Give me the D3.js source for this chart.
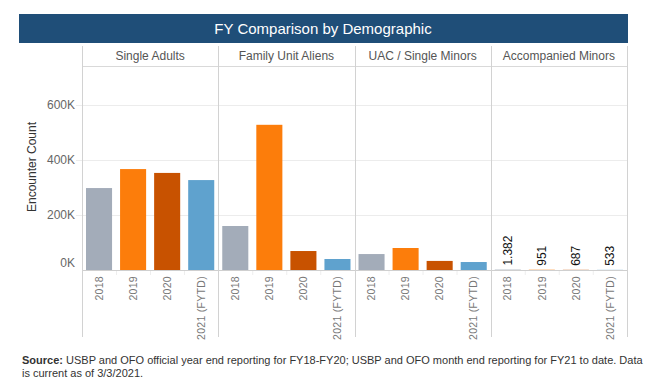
<!DOCTYPE html>
<html>
<head>
<meta charset="utf-8">
<script src="https://cdn.jsdelivr.net/npm/d3@7"></script>
<style>
  body { margin: 0; background: #fff; }
  svg { font-family: "Liberation Sans", Arial, sans-serif; display: block; }
</style>
</head>
<body>
<div id="chart"></div>
<script>
// facets & years
var categories = ["Single Adults", "Family Unit Aliens", "UAC / Single Minors", "Accompanied Minors"];
var years = ["2018", "2019", "2020", "2021 (FYTD)"];

// encounter counts per facet, in year order
var singleAdults = [298000, 367000, 353000, 327000];
var familyUnits = [160000, 528000, 69000, 40000];
var uacMinors = [58000, 80000, 33000, 29000];
var accompaniedMinors = [1382, 951, 687, 533];

var yTicks = [0, 200000, 400000, 600000];
var yearColors = ["#a3acb9", "#fc7d0b", "#c85200", "#5fa2ce"];

var seriesByCat = [singleAdults, familyUnits, uacMinors, accompaniedMinors];

var width = 650, height = 386;
var plotL = 82, plotR = 627; // facet area
var baseY = 270; // zero line
var headTop = 46, headBot = 66, sepBottom = 337;

var svg = d3.select("#chart").append("svg")
  .attr("width", width)
  .attr("height", height);

// title bar
svg.append("rect")
  .attr("x", 19).attr("y", 14)
  .attr("width", 609).attr("height", 29)
  .attr("fill", "#1f4e78");
svg.append("text")
  .attr("x", 323).attr("y", 29)
  .attr("dy", "0.35em")
  .attr("text-anchor", "middle")
  .attr("fill", "#fff")
  .style("font-size", "15px")
  .text("FY Comparison by Demographic");

var x = d3.scaleBand().domain(categories).range([plotL, plotR]);
var xi = d3.scaleBand().domain(years).range([0, x.bandwidth()])
  .paddingInner(0.235).paddingOuter(0.1175);
var y = d3.scaleLinear().domain([0, 600000]).range([baseY, 105]);

// gridlines
svg.selectAll(".grid").data(yTicks.slice(1)).enter().append("line")
  .attr("x1", 76).attr("x2", plotR)
  .attr("y1", function (d) { return y(d) + 0.5; })
  .attr("y2", function (d) { return y(d) + 0.5; })
  .attr("stroke", "#ececec").attr("stroke-width", 1);

// y tick labels (0K sits a little above the baseline, like the original)
svg.selectAll(".ytick").data(yTicks).enter().append("text")
  .attr("x", 75)
  .attr("y", function (d) { return d === 0 ? y(d) - 7 : y(d); })
  .attr("dy", "0.35em")
  .attr("text-anchor", "end")
  .attr("fill", "#666")
  .style("font-size", "12px")
  .text(function (d) { return (d / 1000) + "K"; });

// y axis title
svg.append("text")
  .attr("transform", "translate(32,167) rotate(-90)")
  .attr("dy", "0.35em")
  .attr("text-anchor", "middle")
  .attr("fill", "#333")
  .style("font-size", "12px")
  .text("Encounter Count");

// header bottom line
svg.append("line")
  .attr("x1", plotL).attr("x2", plotR)
  .attr("y1", headBot + 0.5).attr("y2", headBot + 0.5)
  .attr("stroke", "#d9d9d9");

var dotFmt = d3.formatLocale({ decimal: ",", thousands: ".", grouping: [3], currency: ["", ""] }).format(",");

var facet = svg.selectAll(".facet").data(categories).enter().append("g")
  .attr("transform", function (d) { return "translate(" + x(d) + ",0)"; });

// header labels
facet.append("text")
  .attr("x", x.bandwidth() / 2)
  .attr("y", 56)
  .attr("dy", "0.35em")
  .attr("text-anchor", "middle")
  .attr("fill", "#555")
  .style("font-size", "12px")
  .text(function (d) { return d; });

// bars
facet.selectAll("rect").data(function (d, i) {
    return seriesByCat[i].map(function (v, j) { return { year: years[j], value: v, cat: i }; });
  }).enter().append("rect")
  .attr("x", function (d) { return xi(d.year); })
  .attr("width", xi.bandwidth())
  .attr("y", function (d) { return y(d.value); })
  .attr("height", function (d) { return baseY - y(d.value); })
  .attr("fill", function (d, j) { return yearColors[j]; });

// value labels only on the tiny accompanied minors bars
facet.filter(function (d, i) { return i === 3; })
  .selectAll(".val").data(function () {
    return accompaniedMinors.map(function (v, j) { return { year: years[j], value: v }; });
  }).enter().append("text")
  .attr("transform", function (d) {
    return "translate(" + (xi(d.year) + xi.bandwidth() / 2) + "," + (y(d.value) - 4) + ") rotate(-90)";
  })
  .attr("dy", "0.35em")
  .attr("fill", "#111")
  .style("font-size", "12px")
  .text(function (d) { return dotFmt(d.value); });

// x labels (rotated years)
facet.selectAll(".xl").data(years).enter().append("text")
  .attr("transform", function (d) {
    return "translate(" + (xi(d) + xi.bandwidth() / 2) + "," + (baseY + 6) + ") rotate(-90)";
  })
  .attr("dy", "0.35em")
  .attr("text-anchor", "end")
  .attr("fill", "#777")
  .style("font-size", "10.5px")
  .style("letter-spacing", "0.3px")
  .text(function (d) { return d; });

// small band dividers under the axis
facet.selectAll(".bt").data(years.slice(1)).enter().append("line")
  .attr("x1", function (d) { return Math.round(xi(d) - xi.step() * 0.1175) + 0.5; })
  .attr("x2", function (d) { return Math.round(xi(d) - xi.step() * 0.1175) + 0.5; })
  .attr("y1", baseY + 1).attr("y2", baseY + 5)
  .attr("stroke", "#eee");

// zero baseline
svg.append("line")
  .attr("x1", plotL).attr("x2", plotR)
  .attr("y1", baseY + 0.5).attr("y2", baseY + 0.5)
  .attr("stroke", "#cfcfcf");

// facet separators
var seps = categories.map(function (c) { return x(c); }).concat([plotR]);
svg.selectAll(".sep").data(seps).enter().append("line")
  .attr("x1", function (d) { return Math.round(d) + 0.5; })
  .attr("x2", function (d) { return Math.round(d) + 0.5; })
  .attr("y1", headTop).attr("y2", sepBottom)
  .attr("stroke", "#d2d2d2");

// footer
var foot = svg.append("text")
  .attr("x", 22).attr("y", 360)
  .attr("dy", "0.35em")
  .attr("fill", "#333")
  .style("font-size", "11px");
foot.append("tspan").style("font-weight", "bold").text("Source:");
foot.append("tspan").text(" USBP and OFO official year end reporting for FY18-FY20; USBP and OFO month end reporting for FY21 to date. Data");
svg.append("text")
  .attr("x", 22).attr("y", 373)
  .attr("dy", "0.35em")
  .attr("fill", "#333")
  .style("font-size", "11px")
  .text("is current as of 3/3/2021.");
</script>
</body>
</html>
